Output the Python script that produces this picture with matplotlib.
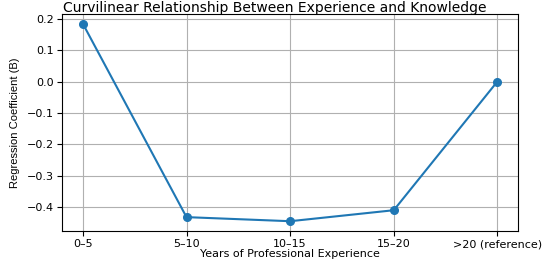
import matplotlib
matplotlib.use("Agg")
import matplotlib.pyplot as plt
from matplotlib import font_manager

## Data
experience = ["0\u20135", "5\u201310", "10\u201315", "15\u201320", ">20 (reference)"]
coefficients = [0.184, -0.432, -0.445, -0.410, 0.0]

## Narrow font for the y label, if available
names = {f.name for f in font_manager.fontManager.ttflist}
narrow = "Liberation Sans Narrow" if "Liberation Sans Narrow" in names else "Liberation Sans"

fig = plt.figure(figsize=(5.5, 2.62), dpi=100)
ax = fig.add_axes([0.113, 0.118, 0.829, 0.829])

x = list(range(len(experience)))
ax.plot(x, coefficients, marker='o', markersize=5.5, color='tab:blue', linewidth=1.5)

ax.set_xticks(x)
ax.set_xticklabels(experience)
ax.tick_params(labelsize=8, pad=2.5)
## title is centred on the figure, not the axes
fig.suptitle("Curvilinear Relationship Between Experience and Knowledge", fontsize=10, x=0.5, y=0.995)
ax.set_xlabel("Years of Professional Experience", fontsize=8, labelpad=0)
ax.set_ylabel("Regression Coefficient (B)", fontsize=8, family=narrow, labelpad=5)
ax.grid(True)

fig.savefig("out.png", dpi=100)
